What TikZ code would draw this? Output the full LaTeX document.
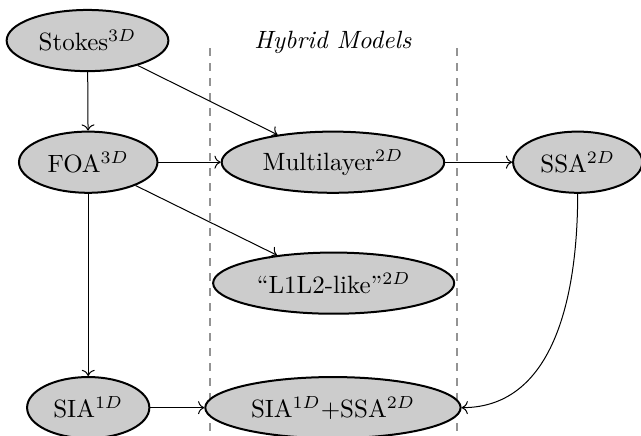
\documentclass[tikz,border=0pt]{standalone}
\usetikzlibrary{arrows.meta,shapes.geometric}
\usepackage{amsmath}

\begin{document}
\begin{tikzpicture}

    \useasboundingbox (0,0) rectangle (9.01,6.12);

    % region boundaries
    \draw [gray!85, dashed, thick] (2.95,5.44) -- (2.95,0);
    \draw [gray!85, dashed, thick] (6.42,5.44) -- (6.42,0);
    \node (8) at (4.68,5.53) {\textit{Hybrid Models}};

    \begin{scope}[every node/.style={ellipse,thick,draw,fill=gray!40,minimum height=0.86cm}]
        \node (1) at (1.23,5.55) {Stokes$^{3D}$};
        \node (2) at (1.24,3.84) {FOA$^{3D}$};
        \node (3) at (1.24,0.39) {SIA$^{1D}$};
        \node (4) at (4.68,3.84) {Multilayer$^{2D}$};
        \node (5) at (4.69,2.14) {``L1L2-like''$^{2D}$};
        \node (6) at (4.68,0.39) {SIA$^{1D}$+SSA$^{2D}$};
        \node (7) at (8.12,3.84) {SSA$^{2D}$};
    \end{scope}

    \begin{scope}[every edge/.style={draw}]
        \path [->] (1) edge (2);
        \path [->] (1) edge (4);
        \path [->] (2) edge (4);
        \path [->] (2) edge (5);
        \path [->] (2) edge (3);
        \path [->] (4) edge (7);
        \path [->] (3) edge (6);
        \path [->] (7) edge [out=-90, in=0] (6);
    \end{scope}

\end{tikzpicture}
\end{document}
